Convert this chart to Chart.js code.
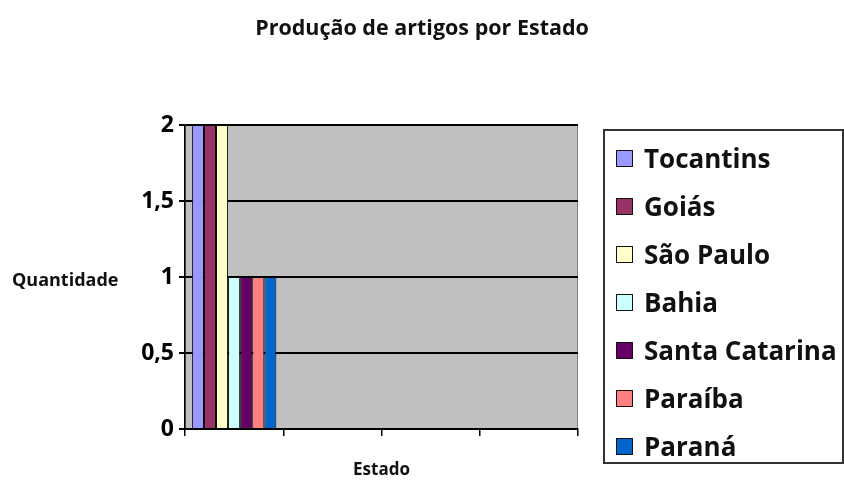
<!DOCTYPE html>
<html>
<head>
<meta charset="utf-8">
<script src="https://cdn.jsdelivr.net/npm/chart.js@4/dist/chart.umd.min.js"></script>
<style>
  body { margin: 0; background: #fff; }
  #wrap { position: relative; width: 844px; height: 480px; }
  #title { position: absolute; left: 0; top: 13px; width: 844px; text-align: center; font: bold 21.5px/28px "Open Sans"; color: #111; }
  #yTitle { position: absolute; left: 12px; top: 267px; font: bold 18px "Open Sans"; color: #111; }
  #legend { position: absolute; left: 603px; top: 129px; width: 241px; height: 335px; box-sizing: border-box;
            border: 2px solid #333; padding-top: 3px; overflow: hidden; }
  #legend .item { height: 48px; display: flex; align-items: center; font: bold 26px "Open Sans"; color: #111; }
  #legend .box { width: 17px; height: 17px; border: 1.5px solid #111; margin: 0 11px 0 11px; box-sizing: border-box; }
</style>
</head>
<body>
<div id="wrap">
  <canvas id="chart" width="844" height="480"></canvas>
  <div id="title">Produção de artigos por Estado</div>
  <div id="yTitle">Quantidade</div>
  <div id="legend"></div>
</div>
<script>
// categories on the x axis (no labels in the original)
const categories = ["", "", "", ""];
const states = ["Tocantins", "Goiás", "São Paulo", "Bahia", "Santa Catarina", "Paraíba", "Paraná"];
// one series per state
const tocantins = [2, null, null, null];
const goias = [2, null, null, null];
const saoPaulo = [2, null, null, null];
const bahia = [1, null, null, null];
const santaCatarina = [1, null, null, null];
const paraiba = [1, null, null, null];
const parana = [1, null, null, null];
const yTickLabels = ["0", "0,5", "1", "1,5", "2"];

const colors = ["#9999FF", "#993366", "#FFFFCC", "#CCFFFF", "#660066", "#FF8080", "#0066CC"];
const values = [tocantins, goias, saoPaulo, bahia, santaCatarina, paraiba, parana];

// grey back wall of the plot
const plotBg = {
  id: "plotBg",
  beforeDraw(chart) {
    const {ctx, chartArea: a} = chart;
    ctx.save();
    ctx.fillStyle = "#C0C0C0";
    ctx.fillRect(a.left, a.top, a.right - a.left, a.bottom - a.top);
    ctx.strokeStyle = "#808080";
    ctx.lineWidth = 1;
    ctx.strokeRect(a.left + 0.5, a.top + 0.5, a.right - a.left - 1, a.bottom - a.top - 1);
    ctx.restore();
  }
};

const chart = new Chart(document.getElementById("chart"), {
  type: "bar",
  data: {
    labels: categories,
    datasets: states.map((s, i) => ({
      label: s,
      data: values[i],
      backgroundColor: colors[i],
      borderColor: "#000",
      borderWidth: 1,
      categoryPercentage: 0.86,
      barPercentage: 1
    }))
  },
  options: {
    responsive: false,
    animation: false,
    devicePixelRatio: 1,
    layout: { padding: { left: 0, right: 266, top: 125, bottom: 0 } },
    plugins: {
      legend: { display: false },
      tooltip: { enabled: false },
      title: { display: false }
    },
    scales: {
      x: {
        offset: true,
        grid: { offset: true, drawOnChartArea: false, color: "#000", lineWidth: 1.5, tickLength: 7 },
        border: { color: "#000", width: 1.5 },
        ticks: { display: true, font: { size: 1 } },
        title: { display: true, text: "Estado", color: "#111", font: { family: "Open Sans", size: 17, weight: "bold", lineHeight: 1 }, padding: { top: 0, bottom: 1 } },
        afterFit(scale) { scale.height = 51; }
      },
      y: {
        min: 0,
        max: 2,
        ticks: {
          stepSize: 0.5,
          color: "#000",
          padding: 5,
          font: { family: "Open Sans", size: 23, weight: "bold" },
          callback: v => yTickLabels[Math.round(v / 0.5)]
        },
        grid: { color: "#000", lineWidth: 2, tickLength: 6 },
        border: { color: "#000", width: 1.5 },
        afterFit(scale) { scale.width = 185; }
      }
    }
  },
  plugins: [plotBg]
});

// legend built from the chart's datasets
const legendEl = document.getElementById("legend");
chart.data.datasets.forEach(ds => {
  const item = document.createElement("div");
  item.className = "item";
  const box = document.createElement("span");
  box.className = "box";
  box.style.background = ds.backgroundColor;
  item.appendChild(box);
  item.appendChild(document.createTextNode(ds.label));
  legendEl.appendChild(item);
});
</script>
</body>
</html>
